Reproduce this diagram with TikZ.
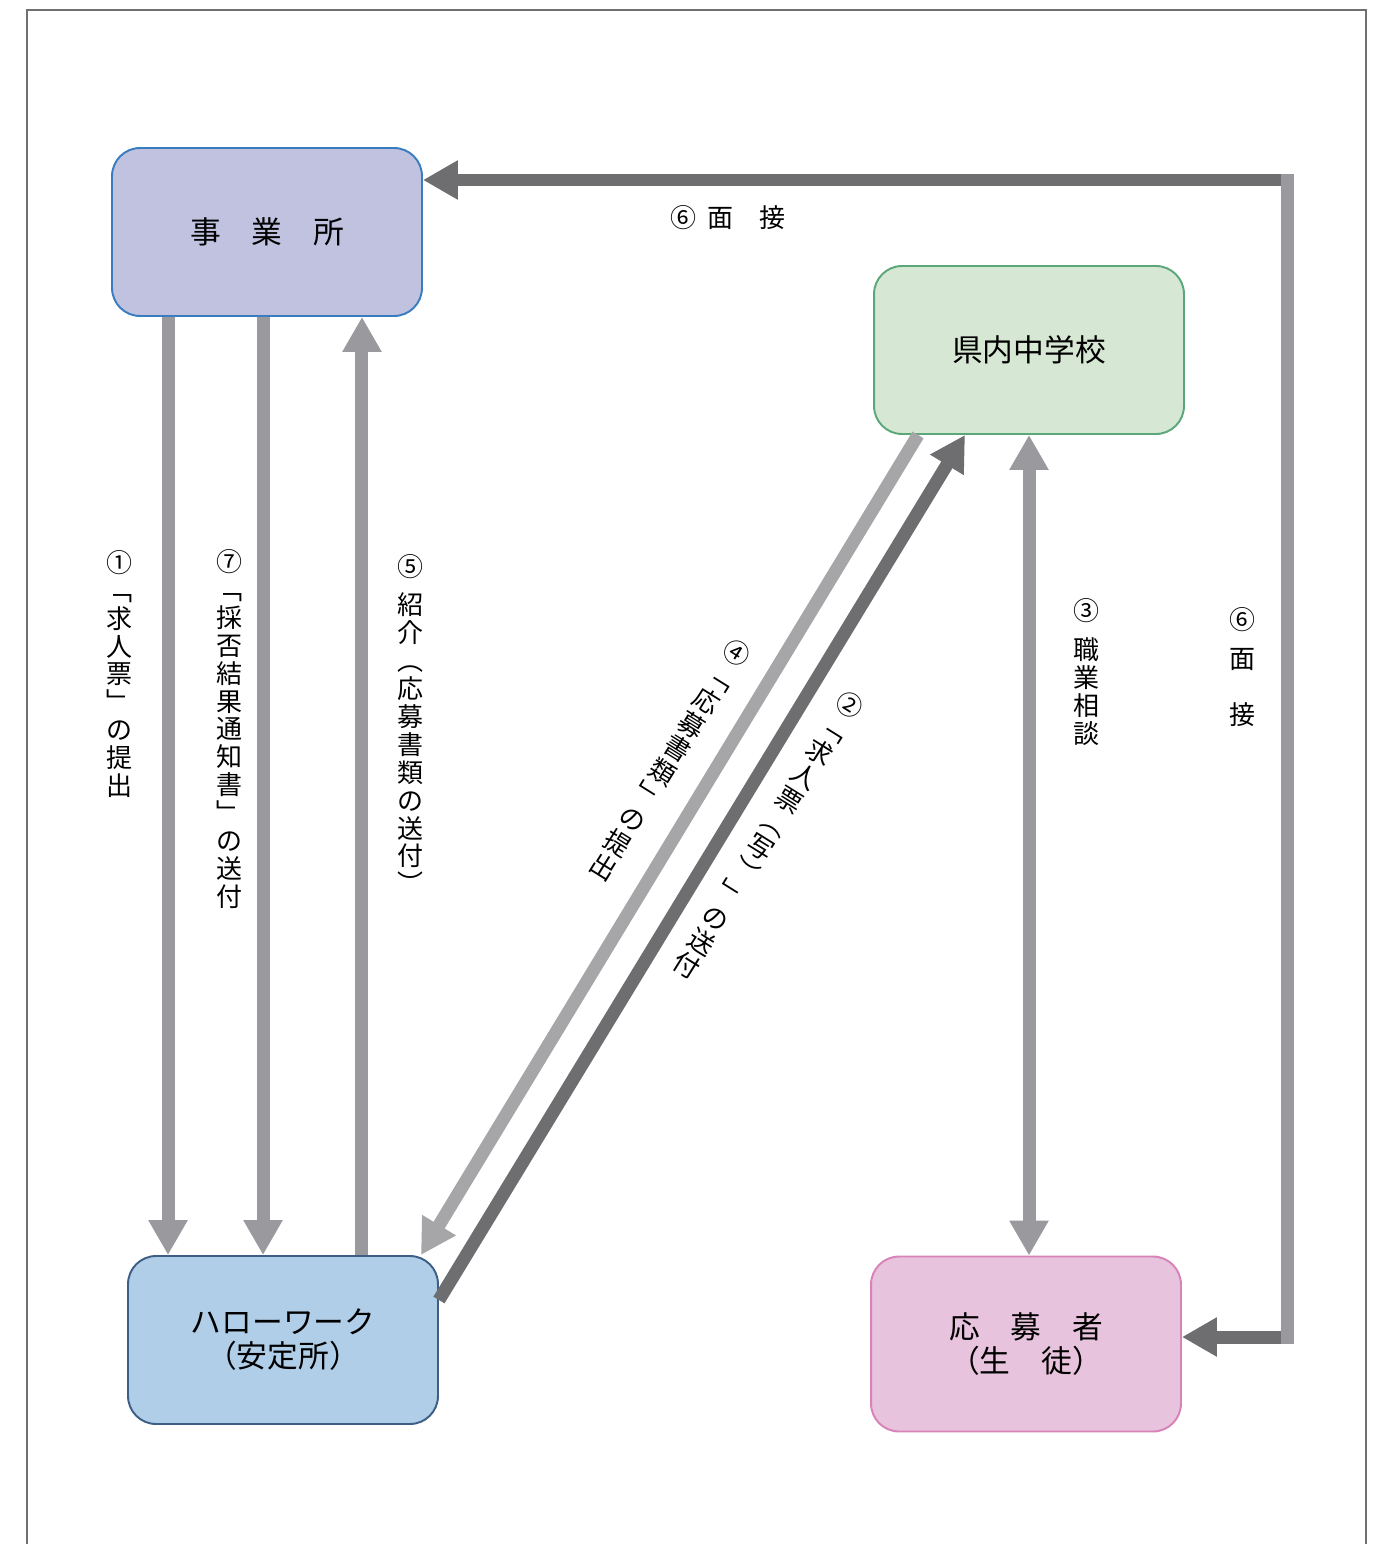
\documentclass[tikz,border=0pt]{standalone}
\usepackage{fontspec}
\usepackage{tikz}
\usetikzlibrary{arrows.meta, positioning, calc}
\newfontfamily\jp{Noto Sans CJK JP}
\definecolor{officefill}{RGB}{192,194,224}
\definecolor{officeline}{RGB}{58,124,192}
\definecolor{schoolfill}{RGB}{214,231,211}
\definecolor{schoolline}{RGB}{91,167,122}
\definecolor{hwfill}{RGB}{176,206,232}
\definecolor{hwline}{RGB}{61,95,134}
\definecolor{appfill}{RGB}{231,195,221}
\definecolor{appline}{RGB}{216,131,184}
\definecolor{arrowgray}{RGB}{154,154,158}
\definecolor{lightgray}{RGB}{166,166,168}
\definecolor{darkgray}{RGB}{110,110,112}
\definecolor{framegray}{RGB}{112,112,112}
\newcommand\boxfont{\jp\fontsize{17.5pt}{19.4pt}\selectfont}
\newcommand\lblfont{\jp\fontsize{14.8pt}{15.9pt}\selectfont}

\begin{document}
\begin{tikzpicture}[x=0.02cm, y=-0.02cm,
  box/.style={draw, line width=1.1pt, rounded corners=0.56cm, minimum width=6.2cm, minimum height=3.36cm, align=center, font=\boxfont},
  garrow/.style={line width=0.26cm, draw=#1, -{Triangle[width=0.74cm,length=0.7cm,fill=#1]}},
  tate/.style={align=center, font=\lblfont, inner sep=0pt}]
  \useasboundingbox (0,0) rectangle (1388,1544);
  % frame
  \draw[framegray, line width=1.2pt] (27,10) rectangle (1366,1600);

  % boxes
  \node[box, fill=officefill, draw=officeline] (office) at (267,232) {事　業　所};
  \node[box, fill=schoolfill, draw=schoolline] (school) at (1029,350) {県内中学校};
  \node[box, fill=hwfill, draw=hwline] (hw) at (283,1340) {ハローワーク\\（安定所）};
  \node[box, fill=appfill, draw=appline, minimum height=3.5cm] (app) at (1026,1344) {応　募　者\\（生　徒）};

  % office <-> hello work
  \coordinate (a1) at ([xshift=-1.98cm]office.south);
  \coordinate (a7) at ([xshift=-0.08cm]office.south);
  \coordinate (a5) at ([xshift=1.9cm]office.south);
  \draw[garrow=arrowgray] (a1) -- (a1 |- hw.north);
  \draw[garrow=arrowgray] (a7) -- (a7 |- hw.north);
  \draw[garrow=arrowgray] (a5 |- hw.north) -- (a5);

  % school <-> hello work
  \draw[garrow=lightgray] ([xshift=-2.22cm]school.south) -- ([xshift=-0.36cm]hw.north east);
  \draw[garrow=darkgray] ([yshift=0.8cm]hw.east) -- ([xshift=-1.28cm]school.south);

  % school <-> applicant
  \draw[garrow=arrowgray, {Triangle[width=0.74cm,length=0.7cm]}-{Triangle[width=0.74cm,length=0.7cm]}] (school.south) -- (school.south |- app.north);

  % interview
  \coordinate (c1) at (1287,180);
  \coordinate (c2) at (1287,1337);
  \draw[garrow=darkgray] (c1) -- (c1 -| office.east);
  \draw[garrow=darkgray] (c2) -- (c2 -| app.east);
  \draw[arrowgray, line width=0.26cm, line cap=rect] (c1) -- (c2);

  % labels
  \node[tate] (l1) at (120,674) {①\\﹁\\求\\人\\票\\﹂\\の\\提\\出};
  \node[tate] (l7) at (229,729) {⑦\\﹁\\採\\否\\結\\果\\通\\知\\書\\﹂\\の\\送\\付};
  \node[tate] (l5) at (410,724) {⑤\\[6pt]紹\\介\\︵\\応\\募\\書\\類\\の\\送\\付\\︶};
  \node[tate, rotate=-32] (l4) at (670,760) {④\\﹁\\応\\募\\書\\類\\﹂\\の\\提\\出};
  \node[tate, rotate=-32] (l2) at (768,835) {②\\﹁\\求\\人\\票\\︵\\写\\︶\\﹂\\の\\送\\付};
  \node[tate] (l3) at (1086,672) {③\\[6pt]職\\業\\相\\談};
  \node[tate] (l6v) at (1242,667) {⑥\\[6pt]面\\ \\接};
  \node[font=\lblfont] (l6h) at (728,218) {⑥\hspace{0.45em}面　接};
\end{tikzpicture}
\end{document}
